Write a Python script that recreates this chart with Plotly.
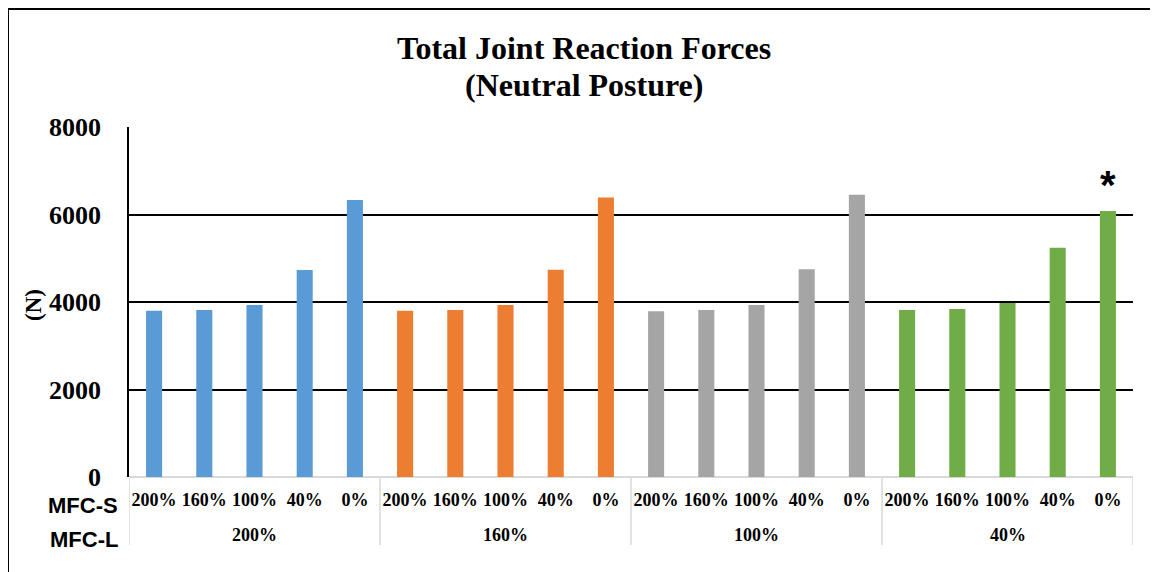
import plotly.graph_objects as go

# MFC-L groups (outer category) and MFC-S levels (inner category)
mfc_l = ['200%', '160%', '100%', '40%']
mfc_s = ['200%', '160%', '100%', '40%', '0%']

# total joint reaction force (N), one list per MFC-L group
force_200 = [3800, 3820, 3930, 4730, 6330]
force_160 = [3800, 3820, 3930, 4740, 6390]
force_100 = [3790, 3820, 3930, 4750, 6450]
force_40 = [3820, 3840, 3980, 5240, 6080]

colors = ['#5B9BD5', '#ED7D31', '#A5A5A5', '#70AD47']
serif = 'Liberation Serif, Times New Roman, serif'
sans = 'Liberation Sans, Arial, sans-serif'

# page body has an 8px margin, so work in screen pixels and shift back
OFF = 8
FW, FH = 1158 - OFF, 572 - OFF
# plot area in screen pixels
L, R, T, B = 129, 1133, 127, 477
W, H = R - L, B - T


def px_x(p):
    return (p - L) / W


def px_y(p):
    return (B - p) / H


fig = go.Figure()
groups = [force_200, force_160, force_100, force_40]
for g, (vals, col) in enumerate(zip(groups, colors)):
    xs = [g * len(mfc_s) + i for i in range(len(mfc_s))]
    fig.add_trace(go.Bar(x=xs, y=vals, marker_color=col, marker_line_width=0,
                         width=0.32, showlegend=False))

n = len(mfc_l) * len(mfc_s)
fig.update_xaxes(range=[-0.5, n - 0.5], tickvals=list(range(n)),
                 ticktext=mfc_s * len(mfc_l), showgrid=False, ticks='',
                 tickfont=dict(family=serif, size=18, color='black', weight='bold'),
                 ticklabelstandoff=10, zeroline=False, showline=False)
fig.update_yaxes(range=[0, 8000], tickvals=[0, 2000, 4000, 6000, 8000],
                 showgrid=True, gridcolor='black', gridwidth=1.6,
                 zeroline=True, zerolinecolor='#D9D9D9', zerolinewidth=1.5,
                 showline=True, linecolor='black', linewidth=1.5,
                 tickfont=dict(family=serif, size=26, color='black', weight='bold'),
                 ticklabelstandoff=21)

# category table lines under the plot
for k in range(len(mfc_l) + 1):
    xv = k * len(mfc_s) - 0.5
    fig.add_shape(type='line', xref='x', yref='paper', x0=xv, x1=xv,
                  y0=0, y1=px_y(545), line=dict(color='#D9D9D9', width=1.5))

# outer frame (top and left edges)
fig.add_shape(type='line', xref='paper', yref='paper', x0=px_x(8), x1=px_x(1170),
              y0=px_y(9), y1=px_y(9), line=dict(color='black', width=2))
fig.add_shape(type='line', xref='paper', yref='paper', x0=px_x(8), x1=px_x(8),
              y0=px_y(9), y1=px_y(580), line=dict(color='black', width=2))

for g, name in enumerate(mfc_l):
    fig.add_annotation(x=g * len(mfc_s) + 2, y=px_y(535), xref='x', yref='paper',
                       text=name, showarrow=False, yanchor='middle',
                       font=dict(family=serif, size=18, color='black', weight='bold'))

for label, yy in [('MFC-S', 505), ('MFC-L', 539)]:
    fig.add_annotation(x=px_x(120), y=px_y(yy), xref='paper', yref='paper', text=label,
                       xanchor='right', yanchor='middle', showarrow=False,
                       font=dict(family=sans, size=22, color='black', weight='bold'))

# y axis title
fig.add_annotation(x=px_x(33), y=px_y(305), xref='paper', yref='paper', text='(N)',
                   textangle=-90, xanchor='center', yanchor='middle', showarrow=False,
                   font=dict(family=serif, size=23, color='black', weight='bold'))

# significance marker on the last bar
fig.add_annotation(x=n - 1, y=force_40[-1], xref='x', yref='y', text='*',
                   yanchor='bottom', yshift=2, showarrow=False,
                   font=dict(family=sans, size=40, color='black', weight='bold'))

# title, two lines placed separately
for line, yy in [('Total Joint Reaction Forces', 48), ('(Neutral Posture)', 85)]:
    fig.add_annotation(x=px_x(584), y=px_y(yy), xref='paper', yref='paper', text=line,
                       xanchor='center', yanchor='middle', showarrow=False,
                       font=dict(family=serif, size=32, color='black', weight='bold'))

fig.update_layout(
    width=FW, height=FH,
    margin=dict(l=L - OFF, r=1158 - R, t=T - OFF, b=572 - B),
    plot_bgcolor='white', paper_bgcolor='white',
)

fig.write_html("out.html")
